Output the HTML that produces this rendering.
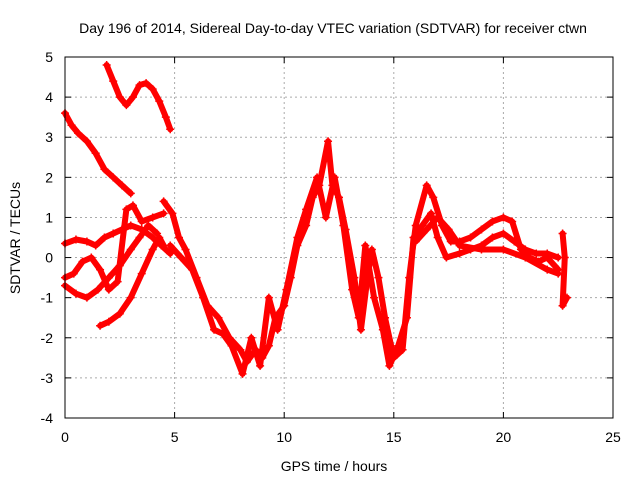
<!DOCTYPE html>
<html><head><meta charset="utf-8"><style>
body{margin:0;background:#fff}
svg{display:block;font-family:"Liberation Sans",sans-serif}
</style></head><body>
<svg id="chart" width="640" height="480" viewBox="0 0 640 480">
<text x="333" y="33" font-size="14" text-anchor="middle">Day 196 of 2014, Sidereal Day-to-day VTEC variation (SDTVAR) for receiver ctwn</text>
<text x="334" y="471" font-size="14" text-anchor="middle">GPS time / hours</text>
<text x="20" y="238" font-size="14" text-anchor="middle" transform="rotate(-90 20 238)">SDTVAR / TECUs</text>
<g id="grid"></g><g id="ticks"></g><g id="series"></g>
<rect x="65" y="57" width="548" height="361" fill="none" stroke="#000"/>
</svg>
<script>
const xTicks=[0,5,10,15,20,25];
const yTicks=[-4,-3,-2,-1,0,1,2,3,4,5];
const trackA=[[1.9,4.8],[2.2,4.4],[2.5,4.0],[2.8,3.8],[3.1,4.0],[3.4,4.3],[3.7,4.35],[4.0,4.2],[4.3,3.9],[4.6,3.5],[4.8,3.2]];
const trackB=[[0,3.6],[0.3,3.3],[0.6,3.1],[1.0,2.9],[1.4,2.6],[1.8,2.2],[2.2,2.0],[2.6,1.8],[3.0,1.6]];
const trackC=[[0,0.35],[0.5,0.45],[1.0,0.4],[1.4,0.3],[1.8,0.5],[2.2,0.6],[2.6,0.7],[3.0,0.8],[3.5,0.7],[4.0,0.5],[4.4,0.3],[4.8,0.1]];
const trackD=[[0,-0.5],[0.4,-0.4],[0.8,-0.1],[1.2,0.0],[1.6,-0.3],[2.0,-0.8],[2.4,-0.6],[2.8,1.2],[3.1,1.3],[3.5,0.9],[4.0,1.0],[4.5,1.1]];
const trackE=[[0,-0.7],[0.5,-0.9],[1.0,-1.0],[1.5,-0.8],[2.0,-0.5],[2.5,-0.2],[3.0,0.2],[3.4,0.5],[3.8,0.8],[4.2,0.6]];
const trackF=[[1.6,-1.7],[2.0,-1.6],[2.5,-1.4],[3.0,-1.0],[3.5,-0.4],[4.0,0.2],[4.3,0.5],[4.5,0.3]];
const trackMain1=[[4.5,1.4],[4.9,1.1],[5.2,0.5],[5.5,0.2],[6.0,-0.5],[6.5,-1.2],[7.0,-1.5],[7.5,-2.0],[8.0,-2.3],[8.3,-2.6],[8.7,-2.3],[9.0,-2.5],[9.3,-2.2],[9.6,-1.5],[10.0,-1.2],[10.3,-0.5],[10.6,0.3],[11.0,0.8],[11.3,1.5],[11.6,1.8],[12.0,2.9],[12.2,1.8],[12.5,1.5],[12.8,0.7],[13.2,-0.5],[13.5,-1.8],[13.8,-0.5],[14.0,0.2],[14.3,-0.5],[14.6,-1.5],[15.0,-2.5],[15.4,-2.3],[15.7,-0.5],[16.0,0.8],[16.5,1.8],[16.8,1.5],[17.2,0.8],[17.6,0.4],[18.0,0.4],[18.5,0.5],[19.0,0.7],[19.5,0.9],[20.0,1.0],[20.4,0.9],[20.8,0.2],[21.2,0.0],[21.6,-0.1],[22.0,0.0],[22.5,-0.3]];
const trackMain2=[[4.8,0.3],[5.3,0],[5.8,-0.3],[6.3,-1.0],[6.8,-1.8],[7.2,-1.9],[7.6,-2.2],[8.1,-2.9],[8.5,-2.0],[8.9,-2.7],[9.3,-1.0],[9.7,-1.8],[10.1,-0.8],[10.6,0.5],[11.0,1.2],[11.5,2.0],[11.9,1.0],[12.3,2.0],[12.7,0.8],[13.1,-0.8],[13.4,-1.5],[13.7,0.3],[14.1,-1.0],[14.5,-1.8],[14.8,-2.7],[15.2,-2.2],[15.6,-1.5],[15.9,0.5],[16.3,0.8],[16.7,1.1],[17.0,0.5],[17.4,0.0],[18.0,0.1],[18.5,0.2],[19.0,0.3],[19.5,0.5],[20.0,0.6],[20.5,0.4],[21.0,0.2],[21.5,0.1],[22.0,0.1],[22.5,0.0]];
const trackG=[[16.0,0.4],[16.5,0.7],[17.0,1.0],[17.5,0.7],[18.0,0.3],[19,0.2],[20,0.2],[21,0.0],[22,-0.3],[22.5,-0.4]];
const trackH=[[22.7,0.6],[22.8,0],[22.7,-1.2],[22.9,-1.0]];
const tracks=[trackA,trackB,trackC,trackD,trackE,trackF,trackMain1,trackMain2,trackG,trackH];
const NS='http://www.w3.org/2000/svg';
const X0=65,X1=613,Y0=418,Y1=57;
const xs=v=>X0+(v-0)/(25-0)*(X1-X0);
const ys=v=>Y0-(v-(-4))/(5-(-4))*(Y0-Y1);
function mk(t,a,p){const e=document.createElementNS(NS,t);for(const k in a)e.setAttribute(k,a[k]);p.appendChild(e);return e;}
const grid=document.getElementById('grid'),ticks=document.getElementById('ticks'),ser=document.getElementById('series');
xTicks.forEach(t=>{const x=xs(t);
 if(t>0&&t<25){const g=mk('line',{x1:x,x2:x,y1:Y1,y2:Y0,stroke:'#aaa','stroke-dasharray':'2,3'},grid);
 
 }
 mk('line',{x1:x,x2:x,y1:Y0,y2:Y0-6,stroke:'#000'},ticks);mk('line',{x1:x,x2:x,y1:Y1,y2:Y1+6,stroke:'#000'},ticks);
 const l=mk('text',{x:x,y:442,'font-size':14,'text-anchor':'middle'},ticks);l.textContent=t;
 
 });
yTicks.forEach(t=>{const y=ys(t);
 if(t>-4&&t<5){const g=mk('line',{x1:X0,x2:X1,y1:y,y2:y,stroke:'#aaa','stroke-dasharray':'2,3'},grid);
 
 }
 mk('line',{x1:X0,x2:X0+6,y1:y,y2:y,stroke:'#000'},ticks);mk('line',{x1:X1,x2:X1-6,y1:y,y2:y,stroke:'#000'},ticks);
 const l=mk('text',{x:53,y:y+5,'font-size':14,'text-anchor':'end'},ticks);l.textContent=t;
 
 });
tracks.forEach((tr,i)=>{
 const p=mk('polyline',{points:tr.map(d=>xs(d[0])+','+ys(d[1])).join(' '),fill:'none',stroke:'#f00','stroke-width':6,'stroke-linejoin':'round','stroke-linecap':'round'},ser);
 
 
 tr.forEach(d=>{const x=xs(d[0]),y=ys(d[1]);
  const m=mk('path',{d:`M${x-4},${y}H${x+4}M${x},${y-4}V${y+4}`,stroke:'#f00','stroke-width':1.5},ser);
  
  });
});
</script>
</body></html>
